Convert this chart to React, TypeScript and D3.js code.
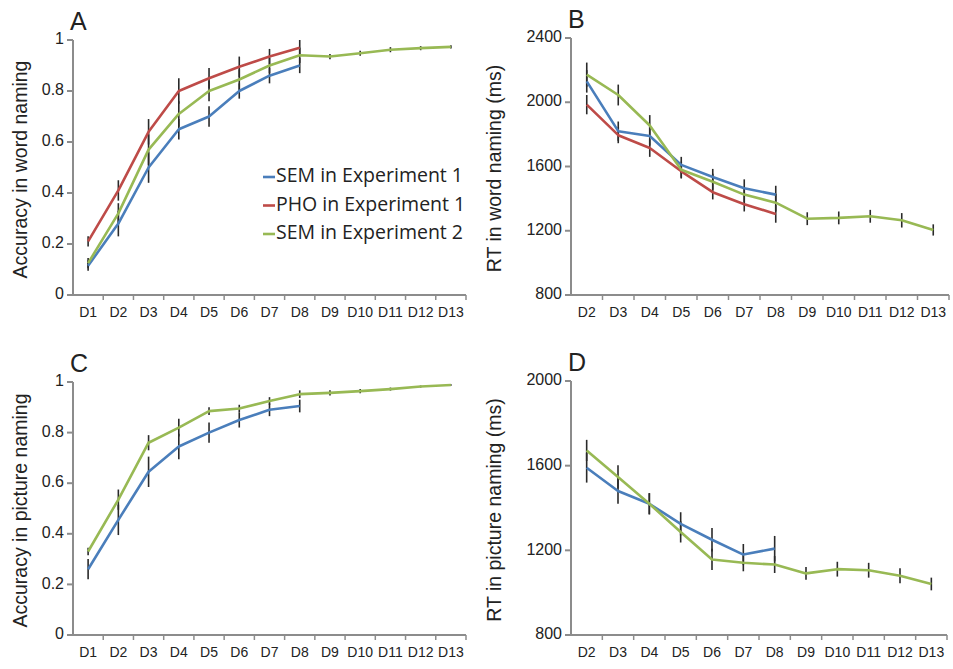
import React from 'react';
import * as d3 from 'd3';

// categories
const daysAll = ['D1', 'D2', 'D3', 'D4', 'D5', 'D6', 'D7', 'D8', 'D9', 'D10', 'D11', 'D12', 'D13'];
const daysRT = ['D2', 'D3', 'D4', 'D5', 'D6', 'D7', 'D8', 'D9', 'D10', 'D11', 'D12', 'D13'];

// A: accuracy in word naming
const accWordSem1 = [0.115, 0.28, 0.50, 0.65, 0.70, 0.80, 0.86, 0.90];
const accWordSem1Err = [0.02, 0.05, 0.06, 0.04, 0.04, 0.03, 0.03, 0.03];
const accWordPho1 = [0.21, 0.41, 0.64, 0.80, 0.85, 0.895, 0.935, 0.97];
const accWordPho1Err = [0.02, 0.04, 0.05, 0.05, 0.04, 0.04, 0.03, 0.03];
const accWordSem2 = [0.125, 0.32, 0.57, 0.71, 0.80, 0.845, 0.90, 0.94, 0.935, 0.948, 0.962, 0.968, 0.973];
const accWordSem2Err = [0.02, 0.04, 0.06, 0.05, 0.04, 0.04, 0.03, 0.03, 0.01, 0.01, 0.01, 0.008, 0.006];

// B: RT in word naming
const rtWordSem1 = [2130, 1820, 1790, 1610, 1535, 1465, 1425];
const rtWordSem1Err = [70, 60, 60, 50, 50, 55, 55];
const rtWordPho1 = [1985, 1795, 1715, 1570, 1440, 1365, 1305];
const rtWordPho1Err = [60, 50, 55, 45, 45, 45, 55];
const rtWordSem2 = [2172, 2045, 1855, 1580, 1505, 1425, 1375, 1275, 1280, 1290, 1265, 1205];
const rtWordSem2Err = [75, 65, 65, 50, 50, 50, 55, 40, 40, 40, 45, 35];

// C: accuracy in picture naming
const accPicSem1 = [0.26, 0.455, 0.645, 0.745, 0.80, 0.85, 0.89, 0.905];
const accPicSem1Err = [0.04, 0.06, 0.06, 0.05, 0.04, 0.03, 0.025, 0.025];
const accPicSem2 = [0.33, 0.535, 0.76, 0.82, 0.885, 0.895, 0.925, 0.952, 0.957, 0.964, 0.972, 0.982, 0.988];
const accPicSem2Err = [0.015, 0.04, 0.03, 0.035, 0.015, 0.015, 0.015, 0.015, 0.01, 0.008, 0.006, 0.004, 0.003];

// D: RT in picture naming
const rtPicSem1 = [1590, 1480, 1420, 1325, 1250, 1180, 1208];
const rtPicSem1Err = [70, 60, 50, 55, 55, 50, 60];
const rtPicSem2 = [1672, 1547, 1420, 1287, 1157, 1141, 1133, 1091, 1111, 1106, 1080, 1041];
const rtPicSem2Err = [50, 55, 50, 50, 50, 40, 40, 30, 35, 35, 35, 30];

const accTicks = [0, 0.2, 0.4, 0.6, 0.8, 1];
const rtWordTicks = [800, 1200, 1600, 2000, 2400];
const rtPicTicks = [800, 1200, 1600, 2000];

const legendLabels = ['SEM in Experiment 1', 'PHO in Experiment 1', 'SEM in Experiment 2'];

const BLUE = '#4a7ebb';
const RED = '#be4b48';
const GREEN = '#98b954';
const AXIS = '#8c8c8c';
const TEXT = '#222';
const FONT = '"Liberation Sans", Arial, sans-serif';

type Series = { values: number[]; err: number[]; color: string };

type PanelProps = {
  letter: string;
  x0: number; x1: number; yTop: number; yBottom: number;
  domain: [number, number];
  ticks: number[];
  categories: string[];
  series: Series[];
  title: string;
  titleX: number;
};

const Panel = ({ letter, x0, x1, yTop, yBottom, domain, ticks, categories, series, title, titleX }: PanelProps) => {
  const x = d3.scaleBand().domain(categories).range([x0, x1]).padding(0);
  const y = d3.scaleLinear().domain(domain).range([yBottom, yTop]);
  const cx = (i: number) => (x(categories[i]) as number) + x.bandwidth() / 2;
  const line = d3.line<number>().x((_, i) => cx(i)).y(d => y(d));

  return (
    <g>
      <text x={x0 - 3} y={yTop - 10} fontSize={25} fontFamily={FONT} fill={TEXT}>{letter}</text>
      <text
        transform={`translate(${titleX},${(yTop + yBottom) / 2 + 2}) rotate(-90)`}
        textAnchor="middle"
        dominantBaseline="middle"
        fontSize={19.5}
        fontFamily={FONT}
        fill={TEXT}
      >{title}</text>

      {/* y axis */}
      <line x1={x0} x2={x0} y1={yTop} y2={yBottom} stroke={AXIS} strokeWidth={2} />
      {ticks.map(t => (
        <g key={t}>
          <line x1={x0 - 6} x2={x0} y1={y(t)} y2={y(t)} stroke={AXIS} strokeWidth={2} />
          <text x={x0 - 9} y={y(t)} textAnchor="end" dominantBaseline="middle" fontSize={16} fontFamily={FONT} fill={TEXT}>
            {d3.format('~g')(t)}
          </text>
        </g>
      ))}

      {/* x axis */}
      <line x1={x0} x2={x1} y1={yBottom} y2={yBottom} stroke={AXIS} strokeWidth={2} />
      {categories.map((c, i) => (
        <g key={c}>
          <line x1={(x(c) as number) + x.bandwidth()} x2={(x(c) as number) + x.bandwidth()} y1={yBottom} y2={yBottom + 5} stroke={AXIS} strokeWidth={1.5} />
          <text x={cx(i)} y={yBottom + 22} textAnchor="middle" fontSize={14} fontFamily={FONT} fill={TEXT}>{c}</text>
        </g>
      ))}

      {/* error bars */}
      {series.map((s, si) => s.values.map((v, i) => (
        <line key={`e${si}-${i}`} x1={cx(i)} x2={cx(i)} y1={y(v - s.err[i])} y2={y(v + s.err[i])} stroke="#2a2a2a" strokeWidth={1.6} />
      )))}

      {/* lines */}
      {series.map((s, si) => (
        <path key={`l${si}`} d={line(s.values) as string} fill="none" stroke={s.color} strokeWidth={2.6} strokeLinejoin="round" />
      ))}
    </g>
  );
};

const App = () => {
  return (
    <svg width={953} height={669} style={{ position: 'absolute', left: 0, top: 0, background: '#fff' }}>
      <rect width={953} height={669} fill="#fff" />
      <Panel
        letter="A" x0={73} x1={466} yTop={40} yBottom={295} domain={[0, 1]} ticks={accTicks}
        categories={daysAll} title="Accuracy in word naming" titleX={22}
        series={[
          { values: accWordSem1, err: accWordSem1Err, color: BLUE },
          { values: accWordPho1, err: accWordPho1Err, color: RED },
          { values: accWordSem2, err: accWordSem2Err, color: GREEN },
        ]}
      />
      <Panel
        letter="B" x0={571} x1={949} yTop={38} yBottom={295} domain={[800, 2400]} ticks={rtWordTicks}
        categories={daysRT} title="RT in word naming (ms)" titleX={496}
        series={[
          { values: rtWordSem1, err: rtWordSem1Err, color: BLUE },
          { values: rtWordPho1, err: rtWordPho1Err, color: RED },
          { values: rtWordSem2, err: rtWordSem2Err, color: GREEN },
        ]}
      />
      <Panel
        letter="C" x0={73} x1={466} yTop={382} yBottom={635} domain={[0, 1]} ticks={accTicks}
        categories={daysAll} title="Accuracy in picture naming" titleX={22}
        series={[
          { values: accPicSem1, err: accPicSem1Err, color: BLUE },
          { values: accPicSem2, err: accPicSem2Err, color: GREEN },
        ]}
      />
      <Panel
        letter="D" x0={571} x1={947} yTop={381} yBottom={635} domain={[800, 2000]} ticks={rtPicTicks}
        categories={daysRT} title="RT in picture naming (ms)" titleX={496}
        series={[
          { values: rtPicSem1, err: rtPicSem1Err, color: BLUE },
          { values: rtPicSem2, err: rtPicSem2Err, color: GREEN },
        ]}
      />

      {/* legend in panel A */}
      {legendLabels.map((l, i) => (
        <g key={l}>
          <line x1={263} x2={275} y1={177 + i * 28.5} y2={177 + i * 28.5} stroke={[BLUE, RED, GREEN][i]} strokeWidth={2.6} />
          <text x={276} y={177 + i * 28.5} dominantBaseline="middle" fontSize={19.5} fontFamily='"Open Sans", sans-serif' fill={TEXT}>{l}</text>
        </g>
      ))}
    </svg>
  );
};

export default App;
